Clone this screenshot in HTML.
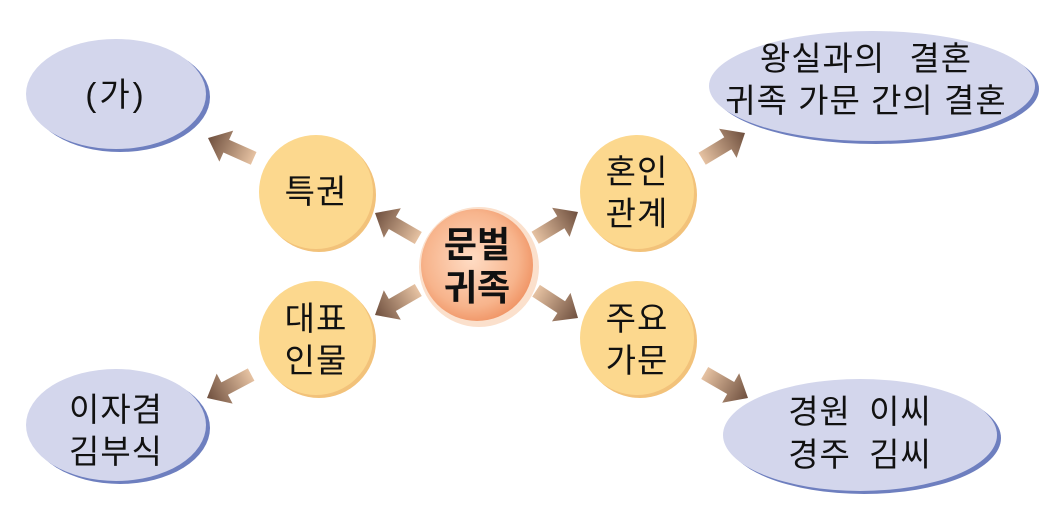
<!DOCTYPE html>
<html><head><meta charset="utf-8"><style>
html,body{margin:0;padding:0;background:#fff;}
svg{display:block;}
text{font-family:"Liberation Sans","Noto Sans CJK KR",sans-serif;fill:#111;}
</style></head><body>
<svg width="1052" height="510" viewBox="0 0 1052 510" xmlns="http://www.w3.org/2000/svg">
<defs>
<linearGradient id="ag" x1="0" y1="0" x2="1" y2="0">
<stop offset="0" stop-color="#e6c2a2"/><stop offset="1" stop-color="#6e4f3e"/>
</linearGradient>
<radialGradient id="cg" cx="0.45" cy="0.45" r="0.6">
<stop offset="0" stop-color="#ffdcc4"/><stop offset="0.7" stop-color="#f7b48c"/><stop offset="1" stop-color="#ef9060"/>
</radialGradient>
<g id="arr"><polygon points="-50,-7 -20,-7 -20,-17 0,0 -20,17 -20,7 -50,7" fill="url(#ag)"/></g>
</defs>
<ellipse cx="120" cy="97" rx="90" ry="55" fill="#6e7fbf"/>
<ellipse cx="116" cy="94" rx="90" ry="55" fill="#d3d6ec"/>
<ellipse cx="876" cy="89" rx="163" ry="55" fill="#6e7fbf"/>
<ellipse cx="872" cy="86" rx="163" ry="55" fill="#d3d6ec"/>
<ellipse cx="120" cy="428" rx="90" ry="56" fill="#6e7fbf"/>
<ellipse cx="116" cy="425" rx="90" ry="56" fill="#d3d6ec"/>
<ellipse cx="864" cy="438" rx="137" ry="56" fill="#6e7fbf"/>
<ellipse cx="860" cy="435" rx="137" ry="56" fill="#d3d6ec"/>
<circle cx="319" cy="195" r="57" fill="#f2c27a"/>
<circle cx="316" cy="192" r="57" fill="#fcd88e"/>
<circle cx="640" cy="195" r="57" fill="#f2c27a"/>
<circle cx="637" cy="192" r="57" fill="#fcd88e"/>
<circle cx="319" cy="341" r="57" fill="#f2c27a"/>
<circle cx="316" cy="338" r="57" fill="#fcd88e"/>
<circle cx="640" cy="341" r="57" fill="#f2c27a"/>
<circle cx="637" cy="338" r="57" fill="#fcd88e"/>
<circle cx="479" cy="267" r="60" fill="#fbe0cc"/>
<circle cx="477" cy="265" r="56" fill="url(#cg)"/>
<use href="#arr" transform="translate(208,138) rotate(204)"/>
<use href="#arr" transform="translate(375,213) rotate(210)"/>
<use href="#arr" transform="translate(578,212) rotate(-31)"/>
<use href="#arr" transform="translate(745,133) rotate(-31)"/>
<use href="#arr" transform="translate(375,315) rotate(150)"/>
<use href="#arr" transform="translate(578,318) rotate(33)"/>
<use href="#arr" transform="translate(207,398) rotate(152)"/>
<use href="#arr" transform="translate(748,398) rotate(30)"/>
<g font-size="33" text-anchor="middle">
<text x="116" y="106" letter-spacing="3">(가)</text>
<text x="866" y="70" letter-spacing="1" word-spacing="14">왕실과의 결혼</text>
<text x="866" y="112" letter-spacing="1">귀족 가문 간의 결혼</text>
<text x="116" y="421" letter-spacing="1">이자겸</text>
<text x="116" y="463" letter-spacing="1">김부식</text>
<text x="860" y="423" letter-spacing="1" word-spacing="8">경원 이씨</text>
<text x="860" y="466" letter-spacing="1" word-spacing="8">경주 김씨</text>
<text x="316" y="203" letter-spacing="1">특권</text>
<text x="637" y="183" letter-spacing="1">혼인</text>
<text x="637" y="225" letter-spacing="1">관계</text>
<text x="316" y="330" letter-spacing="1">대표</text>
<text x="316" y="372" letter-spacing="1">인물</text>
<text x="637" y="330" letter-spacing="1">주요</text>
<text x="637" y="372" letter-spacing="1">가문</text>
<text x="477" y="257" font-weight="bold" font-size="36">문벌</text>
<text x="477" y="300" font-weight="bold" font-size="36">귀족</text>
</g>
</svg>
</body></html>
